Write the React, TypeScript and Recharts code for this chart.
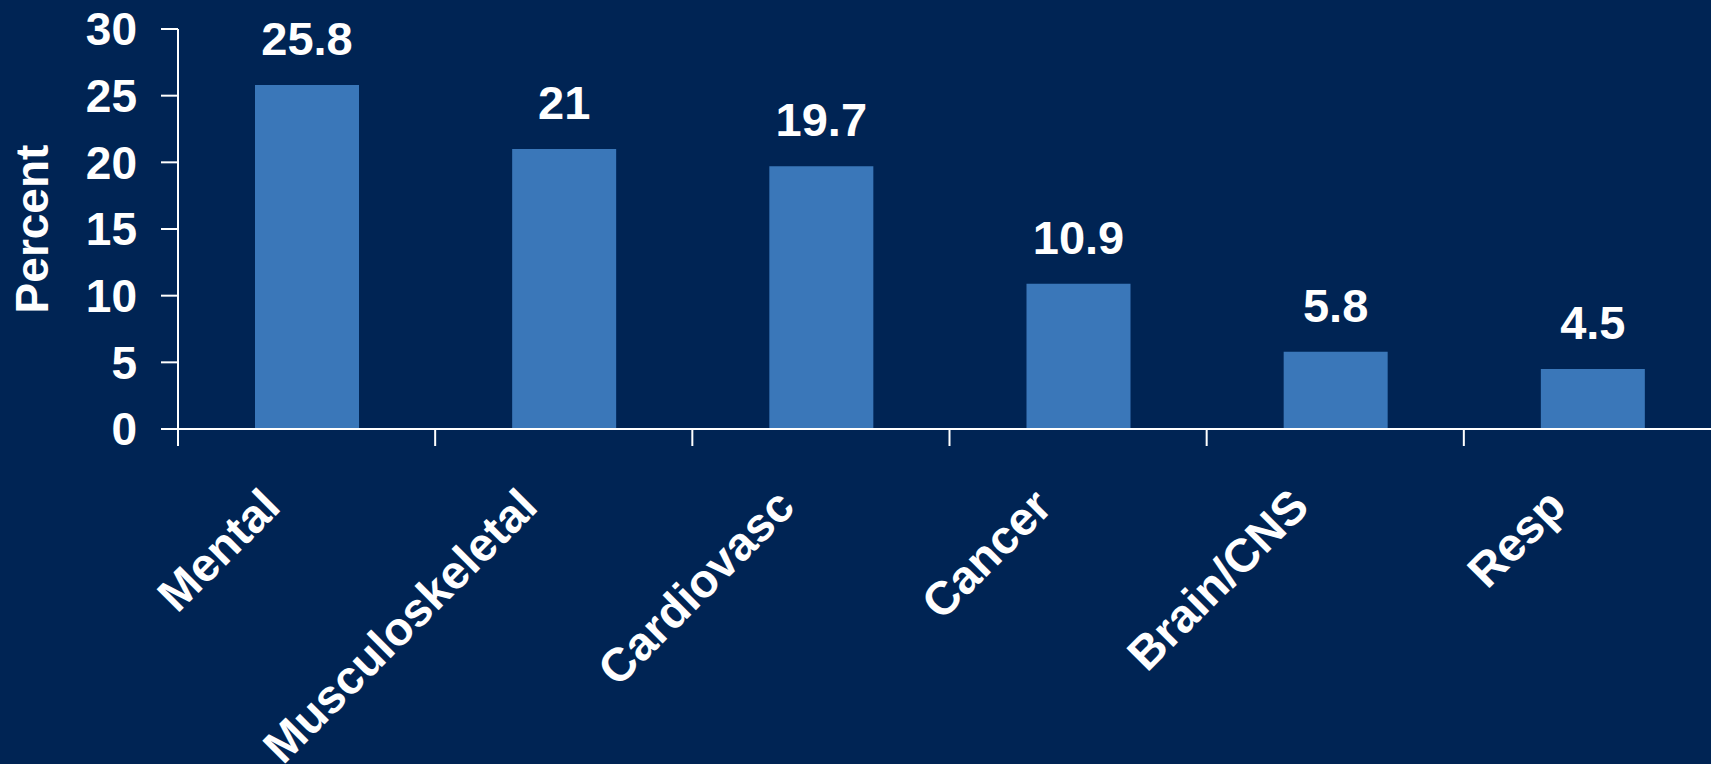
import { BarChart, Bar, XAxis, YAxis, LabelList } from 'recharts';

const categories = ['Mental', 'Musculoskeletal', 'Cardiovasc', 'Cancer', 'Brain/CNS', 'Resp'];
const percents = [25.8, 21, 19.7, 10.9, 5.8, 4.5];
const yTicks = [0, 5, 10, 15, 20, 25, 30];

const data = categories.map((name, i) => ({ name, value: percents[i] }));

const CHART_W = 1721;
const CHART_H = 764;
const Y_AXIS_W = 178;
const BAND = (CHART_W - Y_AXIS_W) / categories.length;
const FONT = '"Liberation Sans", Arial, Helvetica, sans-serif';

// tick lines sit on the category edges, labels are slanted
const CategoryTick = (props: any) => {
  const { x, y, payload } = props;
  const edge = x - BAND / 2;
  const tx = x - 24;
  const ty = y + 63;
  return (
    <g>
      <line x1={edge} y1={y - 17} x2={edge} y2={y} stroke='#ffffff' strokeWidth={2} />
      <text
        x={tx}
        y={ty}
        transform={`rotate(-45, ${tx}, ${ty})`}
        textAnchor='end'
        fill='#ffffff'
        fontSize={47}
        fontWeight='bold'
        fontFamily={FONT}
      >
        {payload.value}
      </text>
    </g>
  );
};

export default function App() {
  return (
    <div
      style={{
        position: 'fixed',
        left: 0,
        top: 0,
        width: 1711,
        height: 764,
        overflow: 'hidden',
        background: '#002454',
      }}
    >
      <BarChart width={CHART_W} height={CHART_H} data={data} margin={{ top: 29, right: 0, left: 0, bottom: 0 }}>
        <XAxis
          dataKey='name'
          height={335}
          tickLine={false}
          tickSize={17}
          tickMargin={0}
          interval={0}
          axisLine={{ stroke: '#ffffff', strokeWidth: 2 }}
          tick={<CategoryTick />}
        />
        <YAxis
          width={Y_AXIS_W}
          domain={[0, 30]}
          ticks={yTicks}
          interval={0}
          tickSize={17}
          tickMargin={24}
          axisLine={{ stroke: '#ffffff', strokeWidth: 2 }}
          tickLine={{ stroke: '#ffffff', strokeWidth: 2 }}
          tick={{ fill: '#ffffff', fontSize: 46, fontWeight: 'bold', fontFamily: FONT }}
          label={{
            value: 'Percent',
            angle: -90,
            position: 'insideLeft',
            offset: 32,
            fill: '#ffffff',
            fontSize: 46,
            fontWeight: 'bold',
            fontFamily: FONT,
            style: { textAnchor: 'middle' },
          }}
        />
        <Bar dataKey='value' fill='#3a77b9' barSize={104} isAnimationActive={false}>
          <LabelList
            dataKey='value'
            position='top'
            offset={30}
            fill='#ffffff'
            fontSize={47}
            fontWeight='bold'
            fontFamily={FONT}
          />
        </Bar>
      </BarChart>
    </div>
  );
}
